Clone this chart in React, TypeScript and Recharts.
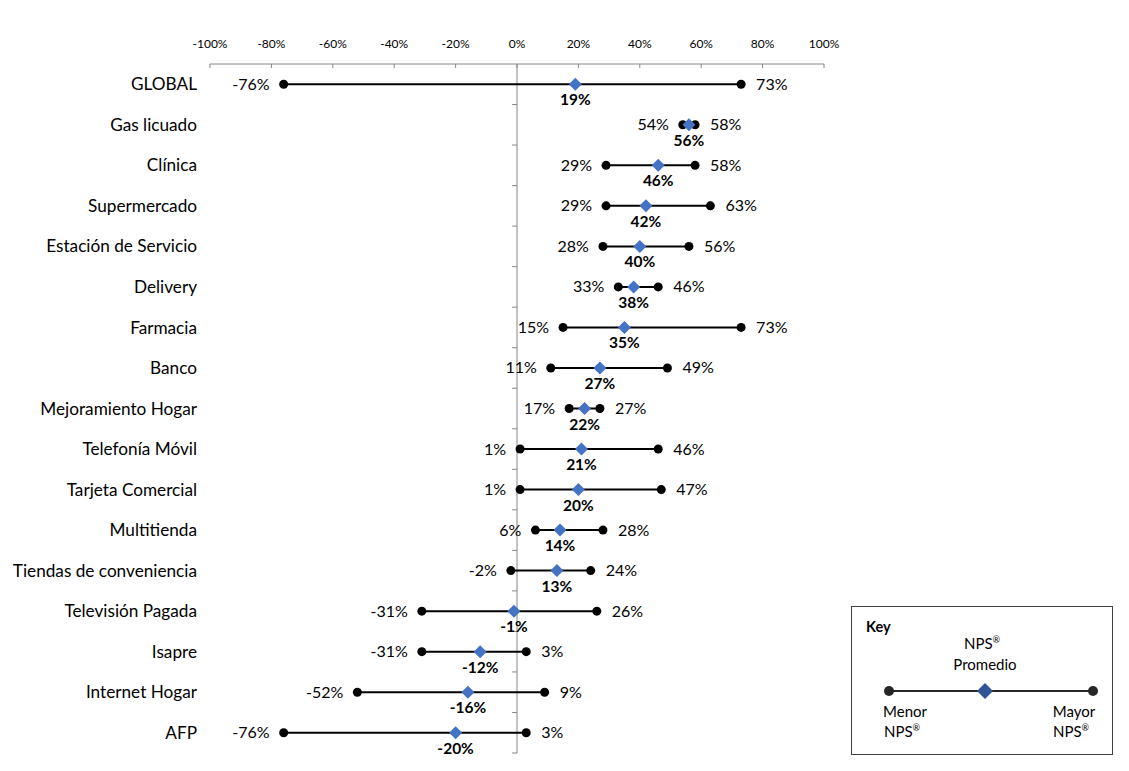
import React from "react";
import {
  ScatterChart,
  Scatter,
  XAxis,
  YAxis,
  ReferenceLine,
} from "recharts";

// NPS por industria: menor, promedio y mayor
const categories = [
  "GLOBAL",
  "Gas licuado",
  "Clínica",
  "Supermercado",
  "Estación de Servicio",
  "Delivery",
  "Farmacia",
  "Banco",
  "Mejoramiento Hogar",
  "Telefonía Móvil",
  "Tarjeta Comercial",
  "Multitienda",
  "Tiendas de conveniencia",
  "Televisión Pagada",
  "Isapre",
  "Internet Hogar",
  "AFP",
];
const lowValues = [-76, 54, 29, 29, 28, 33, 15, 11, 17, 1, 1, 6, -2, -31, -31, -52, -76];
const avgValues = [19, 56, 46, 42, 40, 38, 35, 27, 22, 21, 20, 14, 13, -1, -12, -16, -20];
const highValues = [73, 58, 58, 63, 56, 46, 73, 49, 27, 46, 47, 28, 24, 26, 3, 9, 3];
const xTicks = [-100, -80, -60, -40, -20, 0, 20, 40, 60, 80, 100];

const FONT = "Lato, 'Open Sans', sans-serif";
const BLUE = "#4472C4";

const rows = categories.map((name, i) => ({
  name,
  y: i,
  low: lowValues[i],
  avg: avgValues[i],
  high: highValues[i],
}));
const lowData = rows.map((r) => ({ x: r.low, y: r.y }));
const highData = rows.map((r) => ({ x: r.high, y: r.y }));
const avgData = rows.map((r) => ({ x: r.avg, y: r.y }));
const boundaries = categories.map((_, i) => i + 0.5);

const pct = (v: number) => `${v}%`;

const LowShape = (props: any) => {
  const { cx, cy, payload } = props;
  return (
    <g>
      <circle cx={cx} cy={cy} r={4.5} fill="#000" />
      <text x={cx - 14} y={cy + 5.5} textAnchor="end" fontSize={16} fontFamily={FONT} fill="#000">
        {pct(payload.x)}
      </text>
    </g>
  );
};

const HighShape = (props: any) => {
  const { cx, cy, payload } = props;
  return (
    <g>
      <circle cx={cx} cy={cy} r={4.5} fill="#000" />
      <text x={cx + 15} y={cy + 5.5} textAnchor="start" fontSize={16} fontFamily={FONT} fill="#000">
        {pct(payload.x)}
      </text>
    </g>
  );
};

const AvgShape = (props: any) => {
  const { cx, cy, payload } = props;
  const s = 6.5;
  return (
    <g>
      <polygon
        points={`${cx},${cy - s} ${cx + s},${cy} ${cx},${cy + s} ${cx - s},${cy}`}
        fill={BLUE}
      />
      <text
        x={cx}
        y={cy + 21}
        textAnchor="middle"
        fontSize={15.5}
        fontWeight="bold"
        fontFamily={FONT}
        fill="#000"
      >
        {pct(payload.x)}
      </text>
    </g>
  );
};

const Nps = () => (
  <>
    NPS
    <tspan fontSize={9} dy={-6}>
      ®
    </tspan>
  </>
);

const KeyBox = () => (
  <div
    style={{
      position: "absolute",
      left: 843,
      top: 598,
      width: 260,
      height: 147,
      border: "1.5px solid #404040",
      fontFamily: FONT,
    }}
  >
    <svg width={260} height={147}>
      <text x={14} y={25} fontSize={14.5} fontWeight="bold" fill="#000">
        Key
      </text>
      <text x={130} y={42} fontSize={15} textAnchor="middle" fill="#000">
        <Nps />
      </text>
      <text x={133} y={63} fontSize={15} textAnchor="middle" fill="#000">
        Promedio
      </text>
      <line x1={37} y1={84} x2={241} y2={84} stroke="#262626" strokeWidth={2} />
      <circle cx={37} cy={84} r={5} fill="#262626" />
      <circle cx={241} cy={84} r={5} fill="#262626" />
      <polygon points="133,76 141,84 133,92 125,84" fill="#2F5597" />
      <text x={53} y={110} fontSize={15} textAnchor="middle" fill="#000">
        Menor
      </text>
      <text x={50} y={130} fontSize={15} textAnchor="middle" fill="#000">
        <Nps />
      </text>
      <text x={222} y={110} fontSize={15} textAnchor="middle" fill="#000">
        Mayor
      </text>
      <text x={219} y={130} fontSize={15} textAnchor="middle" fill="#000">
        <Nps />
      </text>
    </svg>
  </div>
);

export default function App() {
  return (
    <div style={{ position: "relative", width: 1110, height: 760 }}>
      <ScatterChart
        width={1110}
        height={760}
        margin={{ top: 26, right: 294, bottom: 15, left: 10 }}
      >
        <XAxis
          type="number"
          dataKey="x"
          orientation="top"
          domain={[-100, 100]}
          ticks={xTicks}
          tickFormatter={pct}
          height={30}
          stroke="#868686"
          tickSize={-4}
          tickMargin={20}
          tick={{ fontSize: 12, fill: "#000", fontFamily: FONT }}
        />
        <YAxis
          type="number"
          dataKey="y"
          domain={[-0.5, 16.5]}
          reversed
          ticks={rows.map((r) => r.y)}
          interval={0}
          tickFormatter={(i: number) => categories[i] ?? ""}
          axisLine={false}
          tickLine={false}
          tickMargin={7}
          width={192}
          tick={{ fontSize: 17.2, fill: "#000", fontFamily: FONT }}
        />
        <ReferenceLine x={0} stroke="#868686" strokeWidth={1} />
        {boundaries.map((b) => (
          <ReferenceLine
            key={`b-${b}`}
            segment={[
              { x: -1.6, y: b },
              { x: 0, y: b },
            ]}
            stroke="#868686"
            strokeWidth={1}
          />
        ))}
        {rows.map((r) => (
          <Scatter
            key={`seg-${r.name}`}
            data={[
              { x: r.low, y: r.y },
              { x: r.high, y: r.y },
            ]}
            line={{ stroke: "#000", strokeWidth: 2 }}
            shape={() => <g />}
            isAnimationActive={false}
          />
        ))}
        <Scatter data={lowData} shape={LowShape} isAnimationActive={false} />
        <Scatter data={highData} shape={HighShape} isAnimationActive={false} />
        <Scatter data={avgData} shape={AvgShape} isAnimationActive={false} />
      </ScatterChart>
      <KeyBox />
    </div>
  );
}
